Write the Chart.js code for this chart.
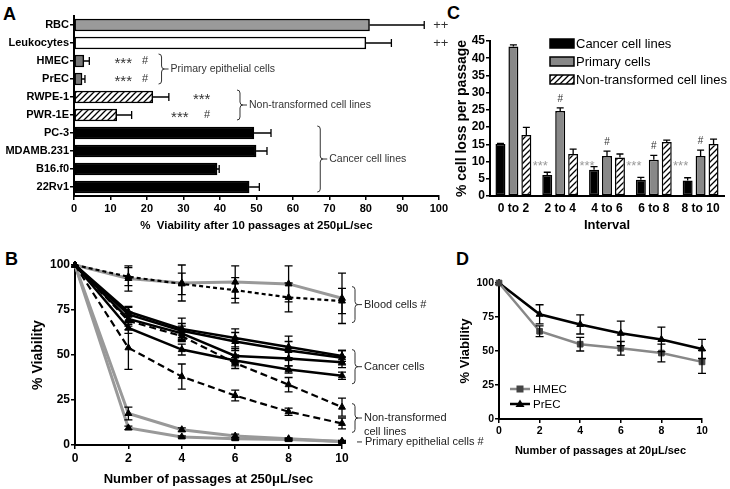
<!DOCTYPE html>
<html>
<head>
<meta charset="utf-8">
<script src="https://cdn.jsdelivr.net/npm/chart.js@4.4.0/dist/chart.umd.min.js"></script>
<style>
  body { margin: 0; background: #fff; width: 730px; height: 489px; position: relative; overflow: hidden;
         font-family: "Liberation Sans", Arial, sans-serif; }
  canvas { position: absolute; }
  .letter { position: absolute; font-weight: bold; font-size: 18px; line-height: 20px; }
</style>
</head>
<body>
<div class="letter" style="left:3px;top:4px">A</div>
<div class="letter" style="left:5px;top:249px">B</div>
<div class="letter" style="left:447px;top:3px">C</div>
<div class="letter" style="left:456px;top:249px">D</div>
<canvas id="chartA" width="450" height="235" style="left:0;top:0"></canvas>
<canvas id="chartB" width="490" height="249" style="left:0;top:240px"></canvas>
<canvas id="chartC" width="290" height="235" style="left:440px;top:0"></canvas>
<canvas id="chartD" width="280" height="220" style="left:450px;top:240px"></canvas>
<script>
// ---- data: panel A (viability after 10 passages) ----
const cellLines = ["RBC", "Leukocytes", "HMEC", "PrEC", "RWPE-1", "PWR-1E", "PC-3", "MDAMB.231", "B16.f0", "22Rv1"];
const viability10 = [81, 80, 2.7, 2.2, 21.6, 11.7, 49.3, 49.9, 39.2, 48];
const viability10Err = [15, 7, 1.5, 0.8, 4.4, 4.1, 4.7, 3, 0.6, 2.8];

// ---- data: panel B (viability vs passages at 250uL/sec) ----
const passages = [0, 2, 4, 6, 8, 10];
const bloodRbc = [100, 92.5, 90, 90.5, 89.5, 81.5];
const bloodRbcErr = [0, 7, 10, 9, 10, 14];
const bloodLeuko = [100, 93.5, 89.5, 86, 82, 80];
const bloodLeukoErr = [0, 5, 6, 7, 8, 7];
const cancer1 = [100, 74, 64.5, 59.5, 54.5, 49.5];
const cancer1Err = [0, 3, 6, 5, 6, 3];
const cancer2 = [100, 72.5, 63.5, 57.5, 52.5, 48.5];
const cancer2Err = [0, 4, 4, 5, 5, 4];
const cancer3 = [100, 70, 62, 49.5, 48, 46];
const cancer3Err = [0, 3, 4, 4, 4, 3];
const cancer4 = [100, 65, 53, 47, 42, 38.5];
const cancer4Err = [0, 3, 3, 3, 2, 2];
const nonTrans1 = [100, 69, 60.5, 45.5, 33.5, 21];
const nonTrans1Err = [0, 5, 3, 3, 4, 5];
const nonTrans2 = [100, 54, 38, 27.5, 18.5, 12];
const nonTrans2Err = [0, 12, 7, 3, 2, 3];
const primary1 = [100, 17.5, 8.5, 5, 3.5, 2];
const primary1Err = [0, 3.5, 1, 1, 0.5, 0.5];
const primary2 = [100, 9.5, 4.5, 3.5, 3, 2];
const primary2Err = [0, 1, 0.5, 0.5, 0.5, 0.3];

// ---- data: panel C (cell loss per passage) ----
const intervals = ["0 to 2", "2 to 4", "4 to 6", "6 to 8", "8 to 10"];
const lossCancer = [15.1, 6.1, 7.6, 4.7, 4.5];
const lossCancerErr = [0.2, 0.8, 0.9, 0.7, 0.8];
const lossPrimary = [43.4, 24.7, 11.6, 10.5, 11.6];
const lossPrimaryErr = [0.5, 0.9, 1.4, 1.3, 1.7];
const lossNonTrans = [17.7, 12.2, 11.2, 15.7, 15.1];
const lossNonTransErr = [2.2, 1.4, 1.0, 0.5, 1.4];

// ---- data: panel D (viability at 20uL/sec) ----
const hmecD = [100, 64.5, 55, 52, 48.5, 42];
const hmecDErr = [0, 4, 5, 5, 6.5, 8.5];
const precD = [100, 77, 69.5, 63, 58.5, 51.5];
const precDErr = [0, 7, 7, 9, 9, 7];

const FONT = '"Liberation Sans", Arial, Helvetica, sans-serif';
Chart.defaults.font.family = FONT;
Chart.defaults.color = '#000';
Chart.defaults.animation = false;
Chart.defaults.plugins.legend.display = false;
Chart.defaults.plugins.tooltip.enabled = false;

// hatched fill for the non-transformed lines
function hatch() {
  const c = document.createElement('canvas');
  c.width = 6; c.height = 6;
  const g = c.getContext('2d');
  g.fillStyle = '#fff';
  g.fillRect(0, 0, 6, 6);
  g.strokeStyle = '#000';
  g.lineWidth = 1.3;
  g.beginPath();
  g.moveTo(0, 6); g.lineTo(6, 0);
  g.moveTo(-1, 1); g.lineTo(1, -1);
  g.moveTo(5, 7); g.lineTo(7, 5);
  g.stroke();
  return g.createPattern(c, 'repeat');
}
const hatchFill = hatch();

const tickGrid = { drawOnChartArea: false, drawTicks: true, tickLength: 4, color: '#000', lineWidth: 1.5 };
const axisBorder = { display: true, color: '#000', width: 2 };

// error bars read from dataset.errors
const errorBars = {
  id: 'errorBars',
  afterDatasetsDraw(chart, args, opts) {
    const ctx = chart.ctx;
    ctx.save();
    ctx.strokeStyle = '#000';
    ctx.lineWidth = 1.3;
    chart.data.datasets.forEach((ds, di) => {
      if (!ds.errors) return;
      const meta = chart.getDatasetMeta(di);
      const vs = meta.vScale;
      meta.data.forEach((el, i) => {
        const e = ds.errors[i];
        if (!e) return;
        const raw = ds.data[i];
        const v = typeof raw === 'object' ? raw.y : raw;
        const hi = vs.getPixelForValue(v + e);
        const lo = vs.getPixelForValue(opts.both ? v - e : v);
        const cap = opts.cap;
        ctx.beginPath();
        if (vs.isHorizontal()) {
          ctx.moveTo(lo, el.y); ctx.lineTo(hi, el.y);
          ctx.moveTo(hi, el.y - cap); ctx.lineTo(hi, el.y + cap);
        } else {
          ctx.moveTo(el.x, lo); ctx.lineTo(el.x, hi);
          ctx.moveTo(el.x - cap, hi); ctx.lineTo(el.x + cap, hi);
          if (opts.both) { ctx.moveTo(el.x - cap, lo); ctx.lineTo(el.x + cap, lo); }
        }
        ctx.stroke();
      });
    });
    ctx.restore();
  }
};

function brace(ctx, x, y1, y2, w) {
  const m = (y1 + y2) / 2;
  ctx.beginPath();
  ctx.moveTo(x - w, y1);
  ctx.quadraticCurveTo(x, y1, x, y1 + w);
  ctx.lineTo(x, m - w);
  ctx.quadraticCurveTo(x, m, x + w, m);
  ctx.quadraticCurveTo(x, m, x, m + w);
  ctx.lineTo(x, y2 - w);
  ctx.quadraticCurveTo(x, y2, x - w, y2);
  ctx.moveTo(x + w, m); ctx.lineTo(x + w + 4, m);
  ctx.stroke();
  return m;
}

// ---------------- A ----------------
const starNotesA = [[2, 13.5, '***'], [2, 19.5, '#'], [3, 13.5, '***'], [3, 19.5, '#'],
                    [4, 35, '***'], [5, 29, '***'], [5, 36.5, '#']];
const bracesA = [[2, 3, 24, 'Primary epithelial cells'], [4, 5, 45.5, 'Non-transformed cell lines'],
                 [6, 9, 67.5, 'Cancer cell lines']];
const notesA = {
  id: 'notesA',
  afterDraw(chart) {
    const ctx = chart.ctx, x = chart.scales.x, y = chart.scales.y;
    ctx.save();
    ctx.fillStyle = '#333';
    ctx.textAlign = 'center';
    ctx.textBaseline = 'middle';
    ctx.font = '13px ' + FONT;
    [0, 1].forEach(r => ctx.fillText('++', x.getPixelForValue(100) + 2, y.getPixelForValue(r)));
    starNotesA.forEach(([r, v, t]) => {
      ctx.font = (t === '#' ? '11px ' : '15px ') + FONT;
      ctx.fillText(t, x.getPixelForValue(v), y.getPixelForValue(r) + (t === '#' ? 0 : 3));
    });
    ctx.strokeStyle = '#333';
    ctx.lineWidth = 1;
    ctx.textAlign = 'left';
    ctx.font = '10.5px ' + FONT;
    bracesA.forEach(([a, b, v, t]) => {
      const bx = x.getPixelForValue(v);
      const m = brace(ctx, bx, y.getPixelForValue(a) - 7, y.getPixelForValue(b) + 5, 3);
      ctx.fillText(t, bx + 9, m);
    });
    ctx.restore();
  }
};

new Chart(document.getElementById('chartA'), {
  type: 'bar',
  data: {
    labels: cellLines,
    datasets: [{
      data: viability10,
      errors: viability10Err,
      backgroundColor: ['#9a9a9a', '#fff', '#777', '#777', hatchFill, hatchFill, '#000', '#000', '#000', '#000'],
      borderColor: '#000',
      borderWidth: 1.5,
      borderSkipped: false,
      barThickness: 12
    }]
  },
  options: {
    indexAxis: 'y',
    responsive: false,
    devicePixelRatio: 1,
    layout: { padding: { left: 0, right: 11, top: 16, bottom: 0 } },
    scales: {
      x: {
        min: 0, max: 100,
        ticks: { stepSize: 10, autoSkip: false, font: { size: 11, weight: 'bold' }, padding: 2 },
        grid: tickGrid, border: axisBorder,
        title: { display: true, text: '%  Viability after 10 passages at 250μL/sec', font: { size: 11.5, weight: 'bold' }, padding: 2 },
        afterFit: s => { s.height = 39; }
      },
      y: {
        ticks: { autoSkip: false, font: { size: 11, weight: 'bold' }, padding: 1 },
        grid: Object.assign({}, tickGrid, { offset: false }), border: axisBorder,
        afterFit: s => { s.width = 74; }
      }
    },
    plugins: { errorBars: { cap: 4, both: false } }
  },
  plugins: [errorBars, notesA]
});

// ---------------- B ----------------
function lineSet(vals, errs, color, dash, width, style, label) {
  return {
    label: label,
    data: vals.map((v, i) => ({ x: passages[i], y: v })),
    errors: errs,
    borderColor: color, borderWidth: width, borderDash: dash,
    pointStyle: style || 'triangle', pointRadius: 4,
    pointBackgroundColor: '#000', pointBorderColor: '#000', pointBorderWidth: 1,
    tension: 0, clip: false, fill: false
  };
}

const bracesB = [[88, 68, ['Blood cells #']], [53, 34, ['Cancer cells']], [23, 7, ['Non-transformed', 'cell lines']]];
const notesB = {
  id: 'notesB',
  afterDraw(chart) {
    const ctx = chart.ctx, x = chart.scales.x, y = chart.scales.y;
    const bx = x.getPixelForValue(10) + 13;
    ctx.save();
    ctx.strokeStyle = '#333';
    ctx.fillStyle = '#222';
    ctx.lineWidth = 1;
    ctx.font = '11px ' + FONT;
    ctx.textBaseline = 'middle';
    bracesB.forEach(([a, b, lines]) => {
      const m = brace(ctx, bx, y.getPixelForValue(a), y.getPixelForValue(b), 3);
      lines.forEach((t, k) => ctx.fillText(t, bx + 9, m + k * 14));
    });
    const py = y.getPixelForValue(1.7);
    ctx.beginPath(); ctx.moveTo(bx + 2, py); ctx.lineTo(bx + 7, py); ctx.stroke();
    ctx.fillText('Primary epithelial cells #', bx + 10, py);
    ctx.restore();
  }
};

new Chart(document.getElementById('chartB'), {
  type: 'line',
  data: {
    datasets: [
      lineSet(cancer1, cancer1Err, '#000', [], 2.5),
      lineSet(cancer2, cancer2Err, '#000', [], 2.5),
      lineSet(cancer3, cancer3Err, '#000', [], 2.5),
      lineSet(cancer4, cancer4Err, '#000', [], 2.5),
      lineSet(nonTrans1, nonTrans1Err, '#000', [7, 4], 2.2),
      lineSet(nonTrans2, nonTrans2Err, '#000', [7, 4], 2.2),
      lineSet(bloodLeuko, bloodLeukoErr, '#000', [4, 3], 2.2),
      lineSet(bloodRbc, bloodRbcErr, '#999', [], 3),
      lineSet(primary1, primary1Err, '#999', [], 3),
      lineSet(primary2, primary2Err, '#999', [], 3)
    ]
  },
  options: {
    responsive: false,
    devicePixelRatio: 1,
    layout: { padding: { left: 28, right: 148, top: 25, bottom: 0 } },
    scales: {
      x: {
        type: 'linear', min: 0, max: 10,
        ticks: { stepSize: 2, autoSkip: false, font: { size: 12, weight: 'bold' }, padding: 2 },
        grid: tickGrid, border: axisBorder,
        title: { display: true, text: 'Number of passages at 250μL/sec', font: { size: 13, weight: 'bold' }, padding: 2 },
        afterFit: s => { s.height = 44; }
      },
      y: {
        min: 0, max: 100,
        ticks: { stepSize: 25, autoSkip: false, font: { size: 12, weight: 'bold' }, padding: 1 },
        grid: tickGrid, border: axisBorder,
        title: { display: true, text: '% Viability', font: { size: 14, weight: 'bold' }, padding: 2 },
        afterFit: s => { s.width = 47; }
      }
    },
    plugins: { errorBars: { cap: 4, both: true } }
  },
  plugins: [errorBars, notesB]
});

// ---------------- C ----------------
const notesC = {
  id: 'notesC',
  afterDraw(chart) {
    const ctx = chart.ctx, y = chart.scales.y, a = chart.chartArea;
    const cancer = chart.getDatasetMeta(0).data, prim = chart.getDatasetMeta(1).data;
    ctx.save();
    ctx.textAlign = 'center';
    ctx.textBaseline = 'middle';
    for (let i = 1; i < intervals.length; i++) {
      ctx.fillStyle = '#999';
      ctx.font = '13px ' + FONT;
      ctx.fillText('***', cancer[i].x - 7, y.getPixelForValue(9.6) + 3);
      ctx.fillStyle = '#333';
      ctx.font = '10px ' + FONT;
      ctx.fillText('#', prim[i].x, y.getPixelForValue(lossPrimary[i] + lossPrimaryErr[i]) - 9);
    }
    // legend
    ctx.textAlign = 'left';
    ctx.font = '13px ' + FONT;
    chart.data.datasets.forEach((ds, i) => {
      const ly = a.top + 2 + i * 18;
      const lx = a.left + 60;
      ctx.fillStyle = ds.backgroundColor;
      ctx.fillRect(lx, ly - 4, 24, 9);
      ctx.strokeStyle = '#000';
      ctx.lineWidth = 1.5;
      ctx.strokeRect(lx, ly - 4, 24, 9);
      ctx.fillStyle = '#000';
      ctx.fillText(ds.label, lx + 26, ly + 1);
    });
    ctx.restore();
  }
};

new Chart(document.getElementById('chartC'), {
  type: 'bar',
  data: {
    labels: intervals,
    datasets: [
      { label: 'Cancer cell lines', data: lossCancer, errors: lossCancerErr, backgroundColor: '#000' },
      { label: 'Primary cells', data: lossPrimary, errors: lossPrimaryErr, backgroundColor: '#888' },
      { label: 'Non-transformed cell lines', data: lossNonTrans, errors: lossNonTransErr, backgroundColor: hatchFill }
    ].map(d => Object.assign(d, { borderColor: '#000', borderWidth: 1.5, borderSkipped: false,
                                    categoryPercentage: 0.83, barPercentage: 0.77 }))
  },
  options: {
    responsive: false,
    devicePixelRatio: 1,
    layout: { padding: { left: 12, right: 6, top: 41, bottom: 0 } },
    scales: {
      x: {
        grid: { display: false, drawTicks: false }, border: axisBorder,
        ticks: { font: { size: 12, weight: 'bold' }, padding: 5 },
        title: { display: true, text: 'Interval', font: { size: 13, weight: 'bold' }, padding: 2 },
        afterFit: s => { s.height = 39; }
      },
      y: {
        min: 0, max: 45,
        ticks: { stepSize: 5, autoSkip: false, font: { size: 12, weight: 'bold' }, padding: 1 },
        grid: tickGrid, border: axisBorder,
        title: { display: true, text: '% cell loss per passage', font: { size: 14, weight: 'bold' }, padding: 2 },
        afterFit: s => { s.width = 38; }
      }
    },
    plugins: { errorBars: { cap: 3.5, both: false } }
  },
  plugins: [errorBars, notesC]
});

// ---------------- D ----------------
const notesD = {
  id: 'notesD',
  afterDraw(chart) {
    const ctx = chart.ctx, a = chart.chartArea;
    ctx.save();
    ctx.font = '11.5px ' + FONT;
    ctx.textBaseline = 'middle';
    chart.data.datasets.forEach((ds, i) => {
      const ly = a.bottom - 30 + i * 15, lx = a.left + 11;
      ctx.strokeStyle = ds.borderColor;
      ctx.lineWidth = ds.borderWidth;
      ctx.beginPath(); ctx.moveTo(lx, ly); ctx.lineTo(lx + 20, ly); ctx.stroke();
      ctx.fillStyle = ds.pointBackgroundColor;
      if (ds.pointStyle === 'rect') {
        ctx.fillRect(lx + 6.5, ly - 3.5, 7, 7);
      } else {
        ctx.beginPath();
        ctx.moveTo(lx + 10, ly - 4.5); ctx.lineTo(lx + 14.5, ly + 3); ctx.lineTo(lx + 5.5, ly + 3);
        ctx.closePath(); ctx.fill();
      }
      ctx.fillStyle = '#000';
      ctx.fillText(ds.label, lx + 23, ly + 1);
    });
    ctx.restore();
  }
};

const hmecSet = lineSet(hmecD, hmecDErr, '#888', [], 2.5, 'rect', 'HMEC');
hmecSet.pointBackgroundColor = '#444';
hmecSet.pointBorderColor = '#444';
const precSet = lineSet(precD, precDErr, '#000', [], 2.5, 'triangle', 'PrEC');

new Chart(document.getElementById('chartD'), {
  type: 'line',
  data: { datasets: [hmecSet, precSet] },
  options: {
    responsive: false,
    devicePixelRatio: 1,
    layout: { padding: { left: 6, right: 28, top: 43, bottom: 0 } },
    scales: {
      x: {
        type: 'linear', min: 0, max: 10,
        ticks: { stepSize: 2, autoSkip: false, font: { size: 10.5, weight: 'bold' }, padding: 2 },
        grid: tickGrid, border: axisBorder,
        title: { display: true, text: 'Number of passages at 20μL/sec', font: { size: 11, weight: 'bold' }, padding: 2 },
        afterFit: s => { s.height = 41; }
      },
      y: {
        min: 0, max: 100,
        ticks: { stepSize: 25, autoSkip: false, font: { size: 10.5, weight: 'bold' }, padding: 1 },
        grid: tickGrid, border: axisBorder,
        title: { display: true, text: '% Viability', font: { size: 13, weight: 'bold' }, padding: 2 },
        afterFit: s => { s.width = 43; }
      }
    },
    plugins: { errorBars: { cap: 4, both: true } }
  },
  plugins: [errorBars, notesD]
});
</script>
</body>
</html>
